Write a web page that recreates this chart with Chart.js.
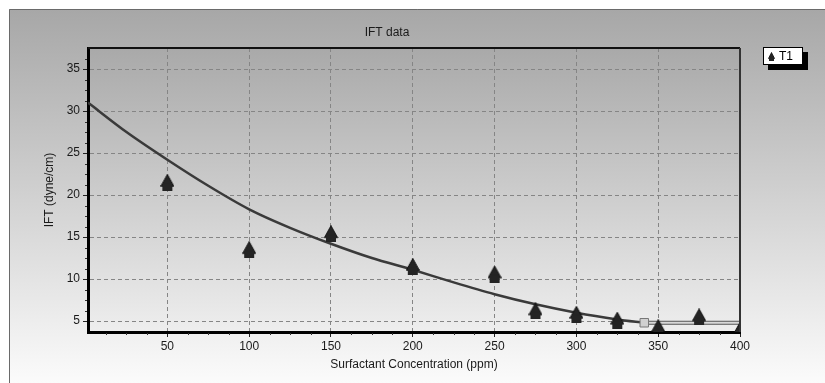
<!DOCTYPE html>
<html>
<head>
<meta charset="utf-8">
<script src="https://cdn.jsdelivr.net/npm/chart.js@4.4.0/dist/chart.umd.min.js"></script>
<style>
  html, body { margin: 0; padding: 0; background: #fff; }
  #wrap { width: 825px; height: 383px; }
</style>
</head>
<body>
<div id="wrap"><canvas id="myChart" width="825" height="383"></canvas></div>
<script>
// measured IFT points (T1)
const concX = [50, 100, 150, 200, 250, 275, 300, 325, 350, 375, 400];
const iftY = [21.5, 13.5, 15.4, 11.5, 10.6, 6.2, 5.8, 5.1, 4.2, 5.5, 3.9];

// fitted curve
const fitX = [1.5, 25, 50, 75, 100, 125, 150, 175, 200, 225, 250, 275, 300, 325, 341.5];
const fitY = [31, 27.5, 24.2, 21.1, 18.3, 16.1, 14.2, 12.5, 11.1, 9.6, 8.2, 7.0, 6.0, 5.2, 4.8];

// flat tail after the end marker
const tailX = [341.5, 400];
const tailY = [4.8, 4.8];

const xTicks = [50, 100, 150, 200, 250, 300, 350, 400];
const yTicks = [5, 10, 15, 20, 25, 30, 35];

const toPts = (xs, ys) => xs.map((x, i) => ({x: x, y: ys[i]}));

const fontName = "'Liberation Sans', Arial, sans-serif";

// marker: triangle sitting on a small square
function makeMarker(w, h) {
  const c = document.createElement('canvas');
  c.width = w; c.height = h;
  const m = c.getContext('2d');
  m.fillStyle = '#242424';
  m.strokeStyle = '#111';
  m.lineWidth = 1;
  m.beginPath();
  m.moveTo(w / 2, 0.5);
  m.lineTo(w - 0.5, h * 0.72);
  m.lineTo(0.5, h * 0.72);
  m.closePath();
  m.fill();
  m.stroke();
  m.fillRect(2, h * 0.55, w - 4, h * 0.45);
  return c;
}
const marker = makeMarker(14, 17);

// frame, gradients, borders, minor ticks, legend box
const decor = {
  id: 'decor',
  beforeDraw(chart) {
    const ctx = chart.ctx, a = chart.chartArea;
    ctx.save();
    ctx.fillStyle = '#fff';
    ctx.fillRect(0, 0, chart.width, chart.height);
    let g = ctx.createLinearGradient(0, 9, 0, chart.height);
    g.addColorStop(0, '#a7a7a7');
    g.addColorStop(1, '#fbfbfb');
    ctx.fillStyle = g;
    ctx.fillRect(9, 9, chart.width, chart.height);
    ctx.strokeStyle = '#6a6a6a';
    ctx.lineWidth = 1;
    ctx.beginPath();
    ctx.moveTo(9.5, chart.height);
    ctx.lineTo(9.5, 9.5);
    ctx.lineTo(chart.width, 9.5);
    ctx.stroke();
    g = ctx.createLinearGradient(0, a.top, 0, a.bottom);
    g.addColorStop(0, '#a9a9a9');
    g.addColorStop(1, '#eeeeee');
    ctx.fillStyle = g;
    ctx.fillRect(a.left, a.top, a.right - a.left, a.bottom - a.top);
    ctx.restore();
  },
  afterDraw(chart) {
    const ctx = chart.ctx, a = chart.chartArea;
    const xs = chart.scales.x, ys = chart.scales.y;
    ctx.save();
    // top and right frame of plot
    ctx.strokeStyle = '#111';
    ctx.lineWidth = 2;
    ctx.beginPath();
    ctx.moveTo(a.left, a.top);
    ctx.lineTo(a.right, a.top);
    ctx.stroke();
    ctx.strokeStyle = '#333';
    ctx.beginPath();
    ctx.moveTo(a.right, a.top);
    ctx.lineTo(a.right, a.bottom);
    ctx.stroke();
    // minor ticks
    ctx.strokeStyle = '#333';
    ctx.lineWidth = 1;
    ctx.beginPath();
    for (let v = 12.5; v < 400; v += 12.5) {
      if (v % 50 === 0) continue;
      const px = Math.round(xs.getPixelForValue(v)) + 0.5;
      ctx.moveTo(px, a.bottom + 1);
      ctx.lineTo(px, a.bottom + 3);
    }
    for (let v = 5; v < 37.5; v += 1.25) {
      if (v % 5 === 0) continue;
      const py = Math.round(ys.getPixelForValue(v)) + 0.5;
      ctx.moveTo(a.left - 3, py);
      ctx.lineTo(a.left - 1, py);
    }
    ctx.stroke();
    // title
    ctx.fillStyle = '#1a1a1a';
    ctx.font = '12px ' + fontName;
    ctx.textAlign = 'center';
    ctx.textBaseline = 'middle';
    ctx.fillText('IFT data', 387, 33);
    // legend
    const lx = 763, ly = 47, lw = 40, lh = 18;
    ctx.fillStyle = '#000';
    ctx.fillRect(lx + 5, ly + 5, lw, lh);
    ctx.fillStyle = '#fff';
    ctx.fillRect(lx, ly, lw, lh);
    ctx.strokeStyle = '#000';
    ctx.lineWidth = 1;
    ctx.strokeRect(lx + 0.5, ly + 0.5, lw - 1, lh - 1);
    ctx.drawImage(marker, lx + 5, ly + 5, 7, 9);
    ctx.textAlign = 'left';
    ctx.fillStyle = '#000';
    ctx.fillText(chart.data.datasets[0].label, lx + 16, ly + lh / 2 + 0.5);
    ctx.restore();
  }
};

const ctx = document.getElementById('myChart').getContext('2d');
const myChart = new Chart(ctx, {
  type: 'scatter',
  data: {
    datasets: [
      {
        label: 'T1',
        data: toPts(concX, iftY),
        pointStyle: marker,
        pointRadius: 7,
        clip: 0,
        order: 0
      },
      {
        label: 'fit',
        data: toPts(fitX, fitY),
        showLine: true,
        pointRadius: 0,
        borderColor: '#3a3a3a',
        borderWidth: 2.5,
        tension: 0.3,
        order: 2
      },
      {
        label: 'tail-out',
        data: toPts(tailX, tailY),
        showLine: true,
        pointRadius: 0,
        borderColor: '#555',
        borderWidth: 4,
        order: 3
      },
      {
        label: 'tail-in',
        data: toPts(tailX, tailY),
        showLine: true,
        pointRadius: 0,
        borderColor: '#d8d8d8',
        borderWidth: 2,
        order: 2
      },
      {
        label: 'end',
        data: toPts([tailX[0]], [tailY[0]]),
        pointStyle: 'rect',
        pointRadius: 6,
        backgroundColor: '#d0d0d0',
        borderColor: '#777',
        borderWidth: 1,
        order: 1
      }
    ]
  },
  options: {
    responsive: false,
    animation: false,
    layout: { padding: { left: 34, right: 85, top: 0, bottom: 0 } },
    plugins: {
      legend: { display: false },
      tooltip: { enabled: false },
      title: {
        display: true,
        text: '',
        font: { size: 12, family: fontName },
        padding: { top: 26, bottom: 7.6 }
      }
    },
    scales: {
      x: {
        type: 'linear',
        min: 1.5,
        max: 400,
        afterBuildTicks: (s) => { s.ticks = xTicks.map(v => ({value: v})); },
        afterFit: (s) => { s.height = 51; },
        ticks: {
          color: '#1a1a1a',
          font: { size: 12, family: fontName },
          padding: 2,
          maxRotation: 0
        },
        grid: {
          color: '#858585',
          lineWidth: 1,
          tickLength: 5,
          tickColor: '#222'
        },
        border: { color: '#000', width: 3, dash: [4, 3] },
        title: {
          display: true,
          text: 'Surfactant Concentration (ppm)',
          color: '#1a1a1a',
          font: { size: 12, family: fontName },
          padding: { top: 11, bottom: 11 }
        }
      },
      y: {
        type: 'linear',
        min: 3.7,
        max: 37.5,
        afterBuildTicks: (s) => { s.ticks = yTicks.map(v => ({value: v})); },
        afterFit: (s) => { s.width = 54; },
        ticks: {
          color: '#1a1a1a',
          font: { size: 12, family: fontName },
          padding: 3
        },
        grid: {
          color: '#858585',
          lineWidth: 1,
          tickLength: 5,
          tickColor: '#222'
        },
        border: { color: '#000', width: 3, dash: [4, 3] },
        title: {
          display: true,
          text: 'IFT (dyne/cm)',
          color: '#1a1a1a',
          font: { size: 12, family: fontName },
          padding: { top: 8, bottom: 8 }
        }
      }
    }
  },
  plugins: [decor]
});
</script>
</body>
</html>
